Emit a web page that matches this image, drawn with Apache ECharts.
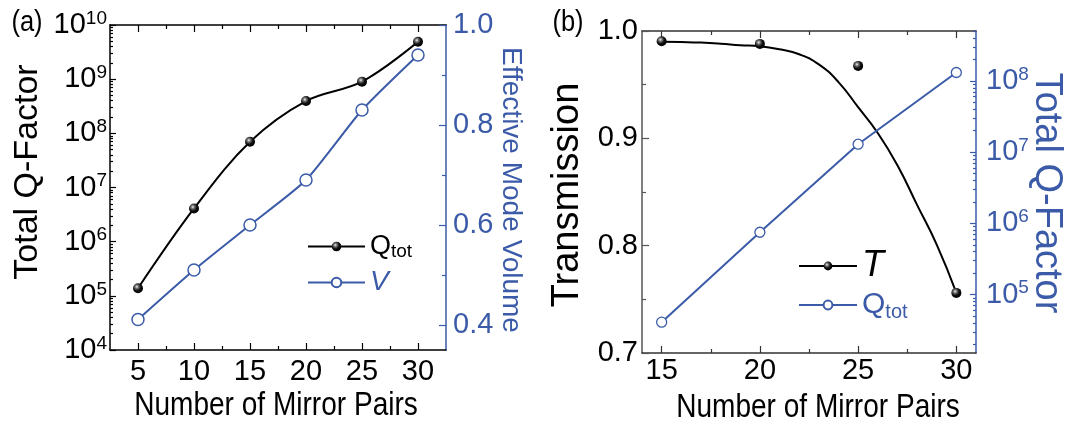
<!DOCTYPE html>
<html>
<head>
<meta charset="utf-8">
<script src="https://cdn.jsdelivr.net/npm/echarts@6/dist/echarts.min.js"></script>
<style>
html,body{margin:0;padding:0;background:#fff;}
#c{width:1077px;height:428px;}
</style>
</head>
<body>
<div id="c"></div>
<script>
// ---------- data ----------
const xA = [5, 10, 15, 20, 25, 30];
const qTotA = [1.38e5, 4.1e6, 7.0e7, 3.95e8, 9.0e8, 4.9e9];
const vA = [0.411, 0.51, 0.60, 0.69, 0.83, 0.94];

const xB = [15, 20, 25, 30];
const tB = [0.9905, 0.988, 0.9675, 0.756];
const qTotB = [4.1e4, 7.5e5, 1.29e7, 1.31e8];
const fitXB = [15, 16, 17, 18, 19, 20, 21, 22, 23, 24, 25, 26, 27, 28, 29, 30];
const fitTB = [0.990, 0.9897, 0.9892, 0.9882, 0.9868, 0.9858, 0.9829, 0.9783, 0.9689, 0.9524, 0.929, 0.905, 0.875, 0.838, 0.801, 0.756];

// ---------- tick labels ----------
const xTicksA = [5, 10, 15, 20, 25, 30];
const xMinorA = [7.5, 12.5, 17.5, 22.5, 27.5];
const qTicksA = [1e4, 1e5, 1e6, 1e7, 1e8, 1e9, 1e10];
const vTicksA = [0.4, 0.6, 0.8, 1.0];
const vMinorA = [0.5, 0.7, 0.9];
const xTicksB = [15, 20, 25, 30];
const xMinorB = [17.5, 22.5, 27.5];
const tTicksB = [0.7, 0.8, 0.9, 1.0];
const tMinorB = [0.75, 0.85, 0.95];
const qTicksB = [1e5, 1e6, 1e7, 1e8];

function logMinors(lo, hi) {
  const out = [];
  for (let e = Math.floor(Math.log10(lo)); e <= Math.ceil(Math.log10(hi)); e++) {
    for (let k = 2; k <= 9; k++) {
      const v = k * Math.pow(10, e);
      if (v >= lo && v <= hi) out.push(v);
    }
  }
  return out;
}

const BLUE = '#3B5BA8';
const FN = "'Liberation Sans',Arial,sans-serif";
const FR = "'Liberation Sans',Arial,sans-serif";
const TICK_FS = 29;

const ball = {
  type: 'radial', x: 0.38, y: 0.35, r: 0.65,
  colorStops: [
    {offset: 0, color: '#f2f2f2'},
    {offset: 0.25, color: '#777'},
    {offset: 0.6, color: '#111'},
    {offset: 1, color: '#000'}
  ]
};

function pair(xs, ys) { return xs.map((x, i) => [x, ys[i]]); }

function expLabel(v) {
  return '{b|10}{s|' + Math.round(Math.log10(v)) + '}';
}
function expRich(color) {
  return {
    b: {fontSize: TICK_FS, fontFamily: FN, color: color, lineHeight: 32},
    s: {fontSize: 19, fontFamily: FN, color: color, lineHeight: 15, verticalAlign: 'top'}
  };
}

function xPair(grid, min, max, majors, minors, pos, showLabel, margin, lineColor) {
  const base = {
    gridIndex: grid, type: 'value', min: min, max: max, position: pos,
    splitLine: {show: false}
  };
  return [
    Object.assign({}, base, {
      axisLine: {show: true, lineStyle: {color: lineColor, width: 1.5}},
      axisTick: {show: true, inside: true, length: 7, customValues: majors, lineStyle: {color: lineColor, width: 1.2}},
      axisLabel: {show: showLabel, customValues: majors, margin: margin, fontSize: TICK_FS, fontFamily: FN, color: '#000'}
    }),
    Object.assign({}, base, {
      axisLine: {show: false},
      axisTick: {show: true, inside: true, length: 4, customValues: minors, lineStyle: {color: lineColor, width: 1.2}},
      axisLabel: {show: false}
    })
  ];
}
function yPair(grid, type, min, max, majors, minors, pos, labelOpt, lineColor, majLen, minLen) {
  const base = {
    gridIndex: grid, type: type, min: min, max: max, position: pos,
    splitLine: {show: false}
  };
  if (type === 'log') base.logBase = 10;
  return [
    Object.assign({}, base, {
      axisLine: {show: true, lineStyle: {color: lineColor, width: 1.5}},
      axisTick: {show: true, inside: true, length: majLen, customValues: majors, lineStyle: {color: lineColor, width: 1.2}},
      axisLabel: Object.assign({show: true, customValues: majors}, labelOpt)
    }),
    Object.assign({}, base, {
      axisLine: {show: false},
      axisTick: {show: true, inside: true, length: minLen, customValues: minors, lineStyle: {color: lineColor, width: 1.2}},
      axisLabel: {show: false}
    })
  ];
}

const qMinA = logMinors(1e4, 1e10);
const qMinB_lo = 15136, qMaxB_hi = 5.01e8;
const qMinorB = logMinors(qMinB_lo, qMaxB_hi);

// xAxis indices: 0,1 bottom(a) | 2,3 top(a) | 4,5 bottom(b) | 6,7 top(b)
const xAxes = [].concat(
  xPair(0, 2.5, 32.5, xTicksA, xMinorA, 'bottom', true, 7, '#000'),
  xPair(0, 2.5, 32.5, xTicksA, xMinorA, 'top', false, 6, '#000'),
  xPair(1, 14, 31, xTicksB, xMinorB, 'bottom', true, 3, '#333'),
  xPair(1, 14, 31, xTicksB, xMinorB, 'top', false, 2, '#333')
);

// yAxis indices: 0,1 left log(a) | 2,3 right V(a) | 4,5 left T(b) | 6,7 right log(b)
const yAxes = [].concat(
  yPair(0, 'log', 1e4, 1e10, qTicksA, qMinA, 'left',
    {margin: 3, formatter: expLabel, rich: expRich('#000')}, '#000', 6, 3),
  yPair(0, 'value', 0.35, 1.0, vTicksA, vMinorA, 'right',
    {margin: 7, fontSize: TICK_FS, fontFamily: FN, color: BLUE, formatter: v => v.toFixed(1)}, BLUE, 7, 4),
  yPair(1, 'value', 0.7, 1.0, tTicksB, tMinorB, 'left',
    {margin: 4, fontSize: TICK_FS, fontFamily: FN, color: '#000', formatter: v => v.toFixed(1)}, '#555', 7, 4),
  yPair(1, 'log', qMinB_lo, qMaxB_hi, qTicksB, qMinorB, 'right',
    {margin: 10, formatter: expLabel, rich: expRich(BLUE)}, BLUE, 6, 3)
);

function vtext(txt, x, y, size, color, rot, sx) {
  return {
    type: 'text', x: x, y: y, rotation: rot, scaleX: sx || 1, scaleY: 1,
    style: {text: txt, fill: color, font: size + 'px ' + FR,
            align: 'center', verticalAlign: 'middle', textAlign: 'center', textVerticalAlign: 'middle'}
  };
}

const legendRich = {
  qk: {fontSize: 27, fontFamily: FN, color: '#000', lineHeight: 30},
  tk: {fontSize: 19, fontFamily: FN, color: '#000', lineHeight: 22, verticalAlign: 'bottom'},
  vb: {fontSize: 28, fontFamily: FN, fontStyle: 'italic', color: BLUE, lineHeight: 30},
  Tk: {fontSize: 36, fontFamily: FN, fontStyle: 'italic', color: '#000', lineHeight: 34},
  qb: {fontSize: 30, fontFamily: FN, color: BLUE, lineHeight: 34},
  tb: {fontSize: 20, fontFamily: FN, color: BLUE, lineHeight: 24, verticalAlign: 'bottom'}
};
const legendFmt = {
  'Qtot': '{qk|Q}{tk|tot}',
  'V': '{vb|V}',
  'T': '{Tk|T}',
  'Qtot ': '{qb|Q}{tb|tot}'
};

const option = {
  animation: false,
  backgroundColor: '#fff',
  grid: [
    {left: 110, top: 25, width: 336, height: 325},
    {left: 642, top: 31, width: 334, height: 322}
  ],
  xAxis: xAxes,
  yAxis: yAxes,
  legend: [
    {
      orient: 'vertical', left: 302, top: 228, itemWidth: 57, itemHeight: 12, itemGap: 7,
      selectedMode: false, data: ['Qtot', 'V'],
      formatter: n => legendFmt[n], textStyle: {rich: legendRich}
    },
    {
      orient: 'vertical', left: 793, top: 243, itemWidth: 58, itemHeight: 11, itemGap: 6,
      selectedMode: false,
      data: [{name: 'T', lineStyle: {width: 2, color: '#000', opacity: 1}}, 'Qtot '],
      formatter: n => legendFmt[n], textStyle: {rich: legendRich}
    }
  ],
  graphic: [
    vtext('(a)', 27, 23, 30, '#000', 0, 0.85),
    vtext('(b)', 568, 23, 30, '#000', 0, 0.85),
    vtext('Total Q-Factor', 28, 172, 34, '#000', Math.PI / 2),
    vtext('Effective Mode Volume', 511, 190, 28, BLUE, -Math.PI / 2),
    vtext('Number of Mirror Pairs', 276, 406, 33, '#000', 0, 0.85),
    vtext('Transmission', 568, 195, 38, '#000', Math.PI / 2),
    vtext('Total Q-Factor', 1046, 193, 38, BLUE, -Math.PI / 2),
    vtext('Number of Mirror Pairs', 818, 408, 33, '#000', 0, 0.85)
  ],
  series: [
    {
      name: 'Qtot', type: 'line', xAxisIndex: 0, yAxisIndex: 0,
      data: pair(xA, qTotA), smooth: 0.35,
      symbol: 'circle', symbolSize: 10, itemStyle: {color: ball},
      lineStyle: {color: '#000', width: 2}
    },
    {
      name: 'V', type: 'line', xAxisIndex: 0, yAxisIndex: 2,
      data: pair(xA, vA), smooth: 0.2,
      symbol: 'circle', symbolSize: 12,
      itemStyle: {color: '#fff', borderColor: BLUE, borderWidth: 1.5},
      lineStyle: {color: BLUE, width: 2}
    },
    {
      name: 'Tfit', type: 'line', xAxisIndex: 4, yAxisIndex: 4,
      data: pair(fitXB, fitTB), smooth: 0.5, showSymbol: false,
      lineStyle: {color: '#000', width: 2}
    },
    {
      name: 'T', type: 'line', xAxisIndex: 4, yAxisIndex: 4,
      data: pair(xB, tB), symbol: 'circle', symbolSize: 10,
      itemStyle: {color: ball}, lineStyle: {width: 0, opacity: 0}, z: 5
    },
    {
      name: 'Qtot ', type: 'line', xAxisIndex: 4, yAxisIndex: 6,
      data: pair(xB, qTotB),
      symbol: 'circle', symbolSize: 10,
      itemStyle: {color: '#fff', borderColor: BLUE, borderWidth: 1.3},
      lineStyle: {color: BLUE, width: 2}
    }
  ]
};

const chart = echarts.init(document.getElementById('c'), null, {renderer: 'canvas'});
chart.setOption(option);
</script>
</body>
</html>
